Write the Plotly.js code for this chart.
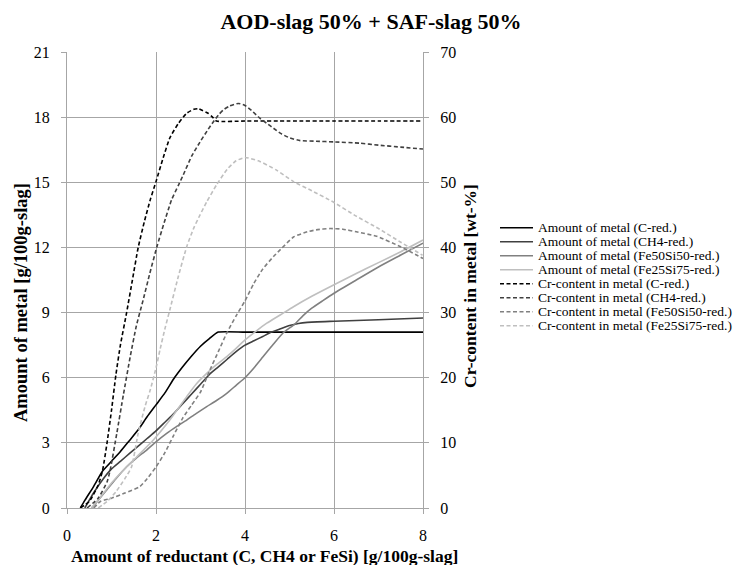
<!DOCTYPE html>
<html>
<head>
<meta charset="utf-8">
<script src="https://cdn.plot.ly/plotly-3.0.1.min.js"></script>
<style>html,body{margin:0;padding:0;background:#fff;}#chart{width:739px;height:565px;}</style>
</head>
<body>
<div id="chart"></div>
<script>
// ---- data ----
const xMetalC   = [0.3,0.4,0.6,0.8,1.0,1.2,1.4,1.6,1.8,2.0,2.2,2.4,2.6,2.8,3.0,3.2,3.4,4,5,6,7,8];
const metalC    = [0,0.35,1.0,1.7,2.15,2.6,3.1,3.6,4.2,4.75,5.3,5.95,6.5,7.0,7.45,7.8,8.1,8.1,8.1,8.1,8.1,8.1];

const xMetalCH4 = [0.4,0.6,0.8,1.0,1.2,1.4,1.6,1.8,2.0,2.2,2.4,2.6,2.8,3.0,3.2,3.4,3.6,3.8,4.0,4.2,4.4,4.6,4.8,5.0,5.2,5.4,6,7,8];
const metalCH4  = [0,0.7,1.3,1.8,2.15,2.5,2.85,3.2,3.55,3.95,4.35,4.8,5.25,5.7,6.15,6.5,6.85,7.2,7.5,7.7,7.9,8.1,8.25,8.4,8.5,8.55,8.6,8.67,8.75];

const xMetalFe50 = [0.55,0.7,0.9,1.1,1.34,1.56,1.79,2.0,2.24,2.46,2.69,2.9,3.14,3.36,3.59,3.8,4.0,4.2,4.4,4.64,4.86,5.12,5.3,5.5,5.75,6.0,6.5,7.0,7.5,8.0];
const metalFe50  = [0,0.35,0.85,1.35,1.9,2.3,2.67,3.05,3.44,3.75,4.05,4.35,4.67,4.95,5.28,5.65,6.0,6.45,6.95,7.55,8.07,8.47,8.85,9.2,9.55,9.89,10.5,11.1,11.65,12.2];

const xMetalFe25 = [0.55,0.75,1.0,1.27,1.57,1.94,2.31,2.69,2.9,3.14,3.36,3.59,3.8,4.0,4.25,4.49,4.8,5.09,5.5,5.99,6.5,7.0,7.5,8.0];
const metalFe25  = [0,0.5,1.15,1.75,2.36,3.13,4.05,5.13,5.7,6.2,6.6,6.97,7.35,7.74,8.15,8.51,8.9,9.27,9.75,10.27,10.8,11.3,11.8,12.34];

const xCrC  = [0.3,0.5,0.7,0.8,0.9,1.0,1.1,1.2,1.34,1.47,1.6,1.74,1.87,2.0,2.15,2.31,2.5,2.69,2.85,2.95,3.05,3.17,3.27,3.36,4,5,6,7,8];
const crC   = [0,1,3.5,5.8,10,15,20.5,25,30,35,40,44,47.3,50.1,53.5,56.8,59.0,60.6,61.2,61.3,61.0,60.6,60.0,59.4,59.4,59.4,59.4,59.4,59.4];

const xCrCH4 = [0.45,0.7,0.9,0.97,1.12,1.27,1.42,1.56,1.71,1.86,2.02,2.17,2.35,2.5,2.61,2.8,2.99,3.15,3.29,3.4,3.51,3.65,3.85,4.0,4.15,4.34,4.5,4.64,4.8,5.01,5.24,5.6,6.0,6.58,7.0,7.5,8.0];
const crCH4  = [0,1.5,4,5.8,11.5,17.5,23.2,28,31.9,36,40.1,43.5,47.3,49.5,51.1,54,56.2,57.9,59.3,60.3,61.1,61.7,62.1,61.8,61.0,59.8,59.0,58.3,57.5,56.8,56.4,56.3,56.2,56.0,55.7,55.4,55.1];

const xCrFe50 = [0.6,0.75,1.0,1.3,1.64,1.8,2.0,2.2,2.4,2.6,2.8,3.0,3.2,3.4,3.6,3.8,4.0,4.2,4.4,4.64,4.8,5.09,5.4,5.6,5.91,6.2,6.5,6.96,7.5,8.0];
const crFe50  = [0,1.0,1.5,2.3,3.3,4.5,6.3,8.5,11.2,13.8,15.8,17.8,21,24,27,29.5,31.8,34.5,36.7,38.6,39.7,41.6,42.4,42.7,42.9,42.8,42.4,41.7,40.1,38.3];

const xCrFe25 = [0.7,0.9,1.1,1.3,1.45,1.6,1.75,1.87,2.0,2.09,2.2,2.31,2.5,2.69,2.85,2.99,3.14,3.36,3.6,3.8,4.0,4.3,4.7,5.09,5.5,6.0,6.5,7.0,7.5,7.99];
const crFe25  = [0,1,2.5,4.5,6.3,11.5,15.5,18.1,21.5,24.3,27.5,30.4,35.5,40.1,43,45,47,49.6,52,53.3,53.8,53.3,51.9,50.1,48.7,46.9,44.8,42.9,40.8,38.8];

const seriesNames = [
  'Amount of metal (C-red.)','Amount of metal (CH4-red.)','Amount of metal (Fe50Si50-red.)','Amount of metal (Fe25Si75-red.)',
  'Cr-content in metal (C-red.)','Cr-content in metal (CH4-red.)','Cr-content in metal (Fe50Si50-red.)','Cr-content in metal (Fe25Si75-red.)'
];
const xTickVals = [0,2,4,6,8];
const yLeftTicks = [0,3,6,9,12,15,18,21];
const yRightTicks = [0,10,20,30,40,50,60,70];

// ---- styling ----
const colors = ['#000000','#404040','#808080','#bfbfbf','#000000','#404040','#808080','#bfbfbf'];
const FONT = 'Liberation Serif, Times New Roman, serif';
const xs = [xMetalC,xMetalCH4,xMetalFe50,xMetalFe25,xCrC,xCrCH4,xCrFe50,xCrFe25];
const ys = [metalC,metalCH4,metalFe50,metalFe25,crC,crCH4,crFe50,crFe25];

const traces = seriesNames.map((n,i)=>({
  type:'scatter', mode:'lines', name:n, x:xs[i], y:ys[i],
  yaxis: i<4 ? 'y' : 'y2',
  line:{color:colors[i], width:1.6, dash: i<4 ? 'solid' : '4px,2.5px', shape:'spline', smoothing:0.5},
  showlegend:false, hoverinfo:'skip'
}));

// manual compact legend (Excel style spacing)
const L=67, R=423, T=52, B=508;
const W=R-L, H=B-T;
const px = v => (v-L)/W, py = v => (B-v)/H;
const shapes=[], annotations=[];
seriesNames.forEach((n,i)=>{
  const yc = 227.7 + 14*i;
  shapes.push({type:'line', xref:'paper', yref:'paper', x0:px(500), x1:px(533), y0:py(yc), y1:py(yc),
    line:{color:colors[i], width:1.6, dash: i<4 ? 'solid' : '4px,2.5px'}});
  annotations.push({xref:'paper', yref:'paper', x:px(536), y:py(yc), xanchor:'left', yanchor:'middle',
    text:n, showarrow:false, font:{family:FONT, size:13.5, color:'#000'}});
});
annotations.push({xref:'paper', yref:'paper', x:px(264), y:py(556), xanchor:'center', yanchor:'middle',
  text:'Amount of reductant (C, CH4 or FeSi) [g/100g-slag]', showarrow:false,
  font:{family:FONT, size:17.5, color:'#000', weight:'bold'}});
annotations.push({xref:'paper', yref:'paper', x:px(21), y:py(303), xanchor:'center', yanchor:'middle', textangle:-90,
  text:'Amount of metal [g/100g-slag]', showarrow:false,
  font:{family:FONT, size:18.5, color:'#000', weight:'bold'}});
annotations.push({xref:'paper', yref:'paper', x:px(470), y:py(286), xanchor:'center', yanchor:'middle', textangle:-90,
  text:'Cr-content in metal [wt-%]', showarrow:false,
  font:{family:FONT, size:17.5, color:'#000', weight:'bold'}});

const gridC = '#a6a6a6';
const layout = {
  width:739, height:565,
  margin:{l:L, r:739-R, t:T, b:565-B, pad:0},
  paper_bgcolor:'#fff', plot_bgcolor:'#fff',
  showlegend:false,
  title:{text:'AOD-slag 50% + SAF-slag 50%', x:0.502, xref:'container', y:1-21/565, yanchor:'middle',
    font:{family:FONT, size:22, color:'#000', weight:'bold'}},
  font:{family:FONT, color:'#000'},
  xaxis:{range:[0,8], tickvals:xTickVals, ticktext:xTickVals.map(String), showgrid:true, gridcolor:gridC, gridwidth:1,
    zeroline:false, showline:true, linecolor:gridC, linewidth:1, ticks:'outside', ticklen:5, tickcolor:gridC,
    ticklabelstandoff:8, tickfont:{family:FONT, size:16, color:'#000'}, fixedrange:true},
  yaxis:{range:[0,21], tickvals:yLeftTicks, ticktext:yLeftTicks.map(String), showgrid:true, gridcolor:gridC, gridwidth:1,
    zeroline:false, showline:true, linecolor:gridC, linewidth:1, ticks:'outside', ticklen:5, tickcolor:gridC,
    ticklabelstandoff:8, tickfont:{family:FONT, size:16, color:'#000'}, fixedrange:true},
  yaxis2:{range:[0,70], tickvals:yRightTicks, ticktext:yRightTicks.map(String), overlaying:'y', side:'right', showgrid:false,
    zeroline:false, showline:true, linecolor:gridC, linewidth:1, ticks:'outside', ticklen:5, tickcolor:gridC,
    ticklabelstandoff:8, tickfont:{family:FONT, size:16, color:'#000'}, fixedrange:true},
  shapes:shapes, annotations:annotations
};
Plotly.newPlot('chart', traces, layout, {displayModeBar:false, staticPlot:true});
</script>
</body>
</html>
